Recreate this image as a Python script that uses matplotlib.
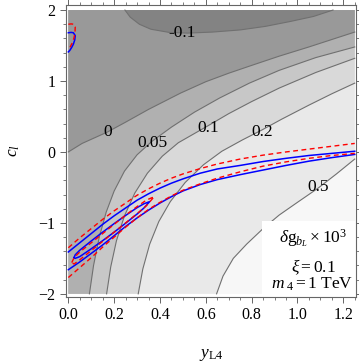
import matplotlib
matplotlib.use("Agg")
import matplotlib.pyplot as plt
from matplotlib.patches import Rectangle
from matplotlib.ticker import MultipleLocator

plt.rcParams["font.family"] = ["Liberation Serif", "DejaVu Serif"]
plt.rcParams["mathtext.fontset"] = "custom"
plt.rcParams["mathtext.rm"] = "Liberation Serif"
plt.rcParams["mathtext.it"] = "Liberation Serif:italic"

X_MIN, X_MAX = 0.0, 1.25
C_MIN, C_MAX = -2.0, 2.0

# contour lines of delta g_bL x 10^3 as (y_L4, c_l)
LEVEL_LABELS = ["-0.1", "0", "0.05", "0.1", "0.2", "0.5"]
LABEL_X = [0.497, 0.17, 0.365, 0.61, 0.845, 1.09]
LABEL_C = [1.67, 0.28, 0.13, 0.34, 0.28, -0.50]

line_m01_x = [0.247, 0.27, 0.31, 0.36, 0.44, 0.52, 0.63, 0.75, 0.86, 0.97, 1.07, 1.155]
line_m01_c = [2.0, 1.90, 1.80, 1.73, 1.685, 1.675, 1.69, 1.72, 1.77, 1.84, 1.91, 2.0]

line_0_x = [0.0, 0.06, 0.17, 0.25, 0.35, 0.49, 0.60, 0.70, 0.80, 0.92, 1.05, 1.15, 1.25]
line_0_c = [0.0, 0.12, 0.28, 0.42, 0.60, 0.83, 0.99, 1.11, 1.22, 1.35, 1.48, 1.585, 1.69]

line_005_x = [0.092, 0.11, 0.135, 0.165, 0.20, 0.245, 0.30, 0.365, 0.45, 0.55, 0.66, 0.79, 0.92, 1.08, 1.25]
line_005_c = [-2.0, -1.60, -1.20, -0.85, -0.55, -0.27, -0.04, 0.15, 0.35, 0.56, 0.76, 0.97, 1.15, 1.33, 1.48]

line_01_x = [0.167, 0.185, 0.21, 0.245, 0.29, 0.345, 0.41, 0.48, 0.545, 0.61, 0.70, 0.80, 0.92, 1.08, 1.25]
line_01_c = [-2.0, -1.62, -1.25, -0.90, -0.58, -0.30, -0.06, 0.13, 0.25, 0.37, 0.54, 0.71, 0.90, 1.12, 1.32]

line_02_x = [0.305, 0.325, 0.355, 0.395, 0.445, 0.51, 0.59, 0.67, 0.76, 0.845, 0.93, 1.05, 1.15, 1.25]
line_02_c = [-2.0, -1.65, -1.30, -0.98, -0.70, -0.43, -0.18, 0.01, 0.17, 0.31, 0.46, 0.66, 0.82, 0.97]

line_05_x = [0.647, 0.675, 0.72, 0.778, 0.85, 0.92, 1.0, 1.09, 1.17, 1.25]
line_05_c = [-2.0, -1.75, -1.50, -1.30, -1.08, -0.89, -0.71, -0.51, -0.31, -0.10]

FILL_COLORS = ["#838383", "#999999", "#b0b0b0", "#c7c7c7", "#d9d9d9", "#e9e9e9", "#f7f7f7"]

# fit regions: blue solid and red dashed, as (y_L4, c_l)
blue_up_x = [0.0, 0.05, 0.10, 0.15, 0.20, 0.25, 0.30, 0.35, 0.40, 0.45, 0.50, 0.575, 0.65,
             0.75, 0.85, 0.95, 1.05, 1.15, 1.25]
blue_up_c = [-1.41, -1.28, -1.15, -1.02, -0.90, -0.79, -0.68, -0.59, -0.51, -0.44, -0.38, -0.30,
             -0.24, -0.19, -0.135, -0.09, -0.05, -0.02, 0.01]
blue_lo_x = [0.0, 0.05, 0.10, 0.15, 0.20, 0.25, 0.30, 0.35, 0.40, 0.45, 0.50, 0.575, 0.65,
             0.75, 0.85, 0.95, 1.05, 1.15, 1.25]
blue_lo_c = [-1.66, -1.55, -1.43, -1.31, -1.18, -1.05, -0.93, -0.82, -0.72, -0.63, -0.55, -0.46,
             -0.39, -0.32, -0.255, -0.19, -0.13, -0.08, -0.035]
blue_in_x = [0.025, 0.03, 0.05, 0.10, 0.15, 0.20, 0.25, 0.30, 0.33, 0.355,
             0.33, 0.30, 0.25, 0.20, 0.15, 0.10, 0.05, 0.03, 0.025]
blue_in_c = [-1.49, -1.45, -1.385, -1.255, -1.13, -1.01, -0.895, -0.785, -0.73, -0.70,
             -0.79, -0.875, -1.005, -1.13, -1.25, -1.365, -1.475, -1.50, -1.49]
blue_top_x = [0.0, 0.012, 0.022, 0.03, 0.028, 0.022, 0.014, 0.006, 0.0]
blue_top_c = [1.68, 1.685, 1.68, 1.64, 1.58, 1.52, 1.47, 1.43, 1.41]

red_up_x = [0.0, 0.05, 0.10, 0.15, 0.20, 0.25, 0.30, 0.35, 0.40, 0.45, 0.50, 0.575, 0.65,
            0.75, 0.85, 0.95, 1.05, 1.15, 1.25]
red_up_c = [-1.35, -1.21, -1.08, -0.95, -0.83, -0.72, -0.61, -0.52, -0.44, -0.37, -0.31, -0.235,
            -0.17, -0.10, -0.045, 0.0, 0.04, 0.08, 0.12]
red_lo_x = [0.0, 0.05, 0.10, 0.15, 0.20, 0.25, 0.30, 0.35, 0.40, 0.45, 0.50, 0.575, 0.65,
            0.75, 0.85, 0.95, 1.05, 1.15, 1.25]
red_lo_c = [-1.77, -1.63, -1.49, -1.34, -1.20, -1.06, -0.93, -0.81, -0.71, -0.62, -0.54, -0.45,
            -0.37, -0.28, -0.20, -0.14, -0.09, -0.05, -0.02]
red_in_x = [0.015, 0.025, 0.05, 0.10, 0.15, 0.20, 0.25, 0.30, 0.34, 0.375,
            0.34, 0.30, 0.25, 0.20, 0.15, 0.10, 0.05, 0.025, 0.015]
red_in_c = [-1.56, -1.49, -1.41, -1.28, -1.15, -1.02, -0.89, -0.77, -0.68, -0.63,
            -0.76, -0.87, -1.00, -1.13, -1.26, -1.39, -1.52, -1.58, -1.56]
red_top_x = [0.0, 0.012, 0.024, 0.03, 0.029, 0.024, 0.016, 0.008, 0.0]
red_top_c = [1.80, 1.805, 1.80, 1.76, 1.68, 1.60, 1.53, 1.48, 1.45]


def upper_left_region(xs, cs):
    """Polygon of the part of the box lying above/left of a contour line."""
    px = list(xs)
    pc = list(cs)
    if cs[-1] < C_MAX:
        px += [X_MAX]
        pc += [C_MAX]
    px += [X_MIN]
    pc += [C_MAX]
    if xs[0] > X_MIN:
        px += [X_MIN]
        pc += [C_MIN]
    return px, pc


contour_lines = [
    (line_m01_x, line_m01_c),
    (line_0_x, line_0_c),
    (line_005_x, line_005_c),
    (line_01_x, line_01_c),
    (line_02_x, line_02_c),
    (line_05_x, line_05_c),
]

fig = plt.figure(figsize=(3.59, 3.64), dpi=100)
ax = fig.add_axes([0.184, 0.184, 0.808, 0.802])

ax.add_patch(Rectangle((X_MIN, C_MIN), X_MAX - X_MIN, C_MAX - C_MIN,
                       facecolor=FILL_COLORS[-1], edgecolor="none", zorder=0))

# paint from the highest level down, each darker band on top
for index in range(len(contour_lines) - 1, -1, -1):
    xs, cs = contour_lines[index]
    if index == 0:
        px, pc = list(xs), list(cs)
    else:
        px, pc = upper_left_region(xs, cs)
    ax.fill(px, pc, color=FILL_COLORS[index], lw=0, zorder=1)

for xs, cs in contour_lines:
    ax.plot(xs, cs, color="#707070", lw=0.8, zorder=2)

for text, lx, lc in zip(LEVEL_LABELS, LABEL_X, LABEL_C):
    ax.text(lx, lc, text, fontsize=12.5, ha="center", va="center", zorder=3)

for xs, cs in [(blue_up_x, blue_up_c), (blue_lo_x, blue_lo_c),
               (blue_in_x, blue_in_c), (blue_top_x, blue_top_c)]:
    ax.plot(xs, cs, color="#0000ff", lw=1.1, zorder=4)

for xs, cs in [(red_up_x, red_up_c), (red_lo_x, red_lo_c),
               (red_in_x, red_in_c), (red_top_x, red_top_c)]:
    ax.plot(xs, cs, color="#ff0000", lw=1.0, ls=(0, (3.5, 2.5)), zorder=5)

# annotation box
ax.add_patch(Rectangle((0.844, C_MIN), X_MAX - 0.844, 1.024,
                       facecolor="white", edgecolor="none", zorder=6))
ax.text(1.07, -1.21, r"$\delta\mathrm{g}_{b_L}\times10^3$", fontsize=12.5,
        ha="center", va="center", zorder=7)
ax.text(1.07, -1.62, r"$\xi = 0.1$", fontsize=12.5,
        ha="center", va="center", zorder=7)
ax.text(1.065, -1.87, r"$m_{\ 4} = 1\ \mathrm{TeV}$", fontsize=12.5,
        ha="center", va="center", zorder=7)

ax.set_xlim(-0.01, 1.256)
ax.set_ylim(-2.045, 2.07)

ax.xaxis.set_major_locator(MultipleLocator(0.2))
ax.xaxis.set_minor_locator(MultipleLocator(0.05))
ax.yaxis.set_major_locator(MultipleLocator(1))
ax.yaxis.set_minor_locator(MultipleLocator(0.2))
ax.xaxis.set_major_formatter(lambda v, p: f"{v:.1f}")
ax.yaxis.set_major_formatter(lambda v, p: f"{v:.0f}".replace("-", "\u2212"))

ax.tick_params(which="both", direction="out", top=True, right=True,
               color="#666666", labelsize=11.5)
ax.tick_params(which="major", length=4, width=0.7)
ax.tick_params(which="minor", length=2.5, width=0.6)
for spine in ax.spines.values():
    spine.set_color("#666666")
    spine.set_linewidth(0.8)

ax.set_xlabel(r"$y_{\mathrm{L4}}$", fontsize=12.5, labelpad=17)
ax.set_ylabel(r"$c_l$", fontsize=12.5, labelpad=12)

fig.savefig("out.png", dpi=100)
